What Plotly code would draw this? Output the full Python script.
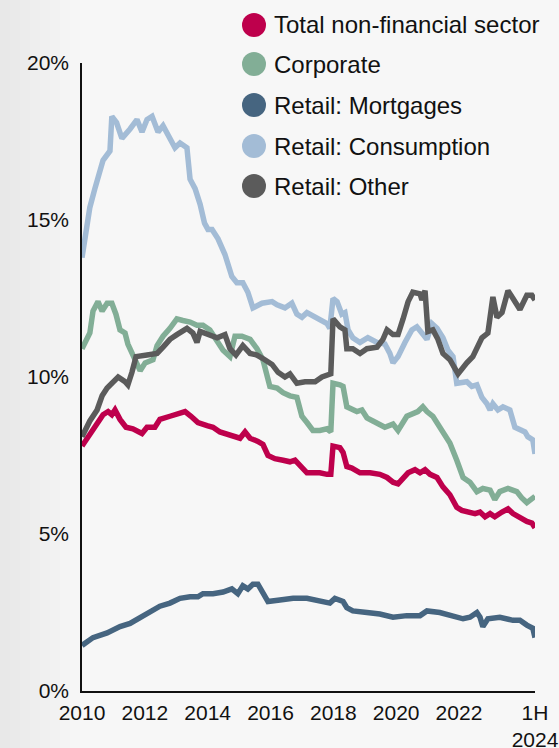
import plotly.graph_objects as go

# Time axis in decimal years (monthly observations, Jan 2010 - Jun 2024)
total_t = [2010.00, 2010.25, 2010.48, 2010.67, 2010.83, 2010.95, 2011.05, 2011.21, 2011.40, 2011.62,
           2011.91, 2012.07, 2012.32, 2012.48, 2012.80, 2013.02, 2013.28, 2013.47, 2013.69, 2013.98,
           2014.17, 2014.39, 2014.65, 2014.81, 2015.03, 2015.19, 2015.35, 2015.60, 2015.76, 2015.92,
           2016.14, 2016.40, 2016.62, 2016.78, 2017.00, 2017.16, 2017.35, 2017.57, 2017.80, 2017.92,
           2017.99, 2018.21, 2018.31, 2018.43, 2018.59, 2018.85, 2019.17, 2019.48, 2019.71, 2019.90,
           2020.06, 2020.22, 2020.38, 2020.60, 2020.76, 2020.92, 2021.08, 2021.30, 2021.49, 2021.71,
           2021.93, 2022.09, 2022.29, 2022.51, 2022.67, 2022.83, 2022.99, 2023.14, 2023.37, 2023.56,
           2023.72, 2023.94, 2024.16, 2024.32, 2024.42]
total_v = [7.8, 8.2, 8.5, 8.8, 8.9, 8.8, 8.95, 8.65, 8.4, 8.35,
           8.2, 8.4, 8.4, 8.65, 8.75, 8.8, 8.9, 8.75, 8.55, 8.45,
           8.4, 8.25, 8.15, 8.1, 8.05, 8.25, 8.05, 7.95, 7.85, 7.5,
           7.4, 7.35, 7.3, 7.35, 7.1, 6.95, 6.95, 6.95, 6.9, 6.9,
           7.8, 7.75, 7.6, 7.15, 7.1, 6.95, 6.95, 6.9, 6.8, 6.65,
           6.6, 6.8, 6.95, 7.05, 6.95, 7.05, 6.9, 6.8, 6.5, 6.25,
           5.85, 5.75, 5.7, 5.65, 5.7, 5.55, 5.65, 5.55, 5.7, 5.8,
           5.65, 5.5, 5.4, 5.35, 5.2]

corp_t = [2010.00, 2010.25, 2010.35, 2010.51, 2010.64, 2010.80, 2010.95, 2011.08, 2011.21, 2011.37,
          2011.46, 2011.69, 2011.85, 2012.01, 2012.26, 2012.39, 2012.58, 2012.80, 2013.02, 2013.21,
          2013.44, 2013.66, 2013.85, 2014.07, 2014.30, 2014.49, 2014.71, 2014.87, 2015.09, 2015.35,
          2015.57, 2015.76, 2015.98, 2016.21, 2016.40, 2016.62, 2016.84, 2017.00, 2017.16, 2017.35,
          2017.57, 2017.80, 2017.92, 2017.99, 2018.21, 2018.31, 2018.43, 2018.59, 2018.75, 2018.91,
          2019.07, 2019.26, 2019.48, 2019.64, 2019.90, 2020.06, 2020.34, 2020.53, 2020.69, 2020.85,
          2020.98, 2021.17, 2021.33, 2021.49, 2021.71, 2021.93, 2022.13, 2022.35, 2022.57, 2022.76,
          2022.99, 2023.14, 2023.30, 2023.56, 2023.84, 2024.00, 2024.16, 2024.42]
corp_v = [10.9, 11.4, 12.1, 12.4, 12.1, 12.35, 12.35, 12.0, 11.5, 11.4,
          11.05, 10.6, 10.2, 10.45, 10.55, 11.0, 11.3, 11.55, 11.85, 11.8,
          11.75, 11.65, 11.65, 11.5, 11.15, 10.85, 10.65, 11.3, 11.3, 11.2,
          10.9, 10.55, 9.7, 9.65, 9.5, 9.4, 9.35, 8.75, 8.55, 8.3,
          8.3, 8.35, 8.25, 9.8, 9.75, 9.7, 9.05, 8.95, 8.9, 8.95,
          8.7, 8.6, 8.5, 8.4, 8.5, 8.3, 8.75, 8.85, 8.9, 9.05,
          8.9, 8.75, 8.5, 8.3, 7.9, 7.35, 6.8, 6.65, 6.35, 6.45,
          6.4, 6.1, 6.35, 6.45, 6.35, 6.15, 6.0, 6.2]

mort_t = [2010.00, 2010.35, 2010.80, 2011.21, 2011.53, 2011.85, 2012.16, 2012.48, 2012.80, 2013.12,
          2013.44, 2013.69, 2013.85, 2014.17, 2014.49, 2014.77, 2014.96, 2015.12, 2015.28, 2015.44,
          2015.60, 2015.76, 2015.92, 2016.30, 2016.72, 2017.16, 2017.57, 2017.89, 2018.05, 2018.31,
          2018.43, 2018.62, 2019.07, 2019.48, 2019.90, 2020.34, 2020.76, 2020.98, 2021.39, 2021.81,
          2022.13, 2022.35, 2022.57, 2022.67, 2022.76, 2022.92, 2023.30, 2023.72, 2023.94, 2024.16,
          2024.35, 2024.42]
mort_v = [1.45, 1.7, 1.85, 2.05, 2.15, 2.35, 2.5, 2.7, 2.8, 2.95,
          3.0, 3.0, 3.1, 3.1, 3.15, 3.25, 3.1, 3.35, 3.25, 3.4,
          3.4, 3.15, 2.85, 2.9, 2.95, 2.95, 2.85, 2.8, 2.95, 2.85,
          2.65, 2.55, 2.5, 2.45, 2.35, 2.4, 2.4, 2.55, 2.5, 2.4,
          2.3, 2.35, 2.5, 2.35, 2.05, 2.3, 2.35, 2.25, 2.25, 2.1,
          2.0, 1.7]

cons_t = [2010.00, 2010.25, 2010.41, 2010.67, 2010.89, 2010.95, 2011.10, 2011.27, 2011.53, 2011.75,
          2011.91, 2012.07, 2012.23, 2012.42, 2012.58, 2012.80, 2012.96, 2013.12, 2013.34, 2013.44,
          2013.60, 2013.76, 2013.90, 2014.01, 2014.14, 2014.33, 2014.55, 2014.77, 2014.93, 2015.12,
          2015.28, 2015.44, 2015.73, 2016.05, 2016.21, 2016.46, 2016.68, 2016.84, 2017.00, 2017.16,
          2017.35, 2017.57, 2017.80, 2017.89, 2017.99, 2018.12, 2018.27, 2018.37, 2018.47, 2018.62,
          2018.85, 2019.10, 2019.39, 2019.64, 2019.80, 2019.90, 2020.06, 2020.28, 2020.50, 2020.66,
          2020.82, 2020.98, 2021.14, 2021.30, 2021.49, 2021.65, 2021.81, 2021.93, 2022.25, 2022.41,
          2022.57, 2022.73, 2022.89, 2022.99, 2023.08, 2023.24, 2023.40, 2023.62, 2023.78, 2023.94,
          2024.10, 2024.19, 2024.35, 2024.42]
cons_v = [13.8, 15.4, 16.0, 16.9, 17.2, 18.3, 18.1, 17.6, 17.9, 18.2,
          17.8, 18.2, 18.3, 17.8, 18.0, 17.6, 17.3, 17.45, 17.3, 16.3,
          16.0, 15.5, 14.9, 14.7, 14.7, 14.4, 13.9, 13.2, 13.0, 13.0,
          12.7, 12.2, 12.35, 12.4, 12.3, 12.2, 12.35, 12.0, 11.9, 12.05,
          11.95, 11.8, 11.7, 11.55, 12.5, 12.4, 12.0, 12.05, 11.5, 11.25,
          11.1, 11.25, 11.1, 11.05, 10.75, 10.45, 10.65, 11.1, 11.5, 11.6,
          11.4, 11.2, 11.7, 11.55, 11.25, 10.85, 10.65, 9.8, 9.85, 9.7,
          9.75, 9.35, 9.15, 8.95, 9.15, 8.95, 9.05, 8.95, 8.4, 8.3,
          8.25, 8.1, 8.0, 7.55]

other_t = [2010.00, 2010.25, 2010.48, 2010.64, 2010.80, 2010.99, 2011.15, 2011.37, 2011.46, 2011.59,
           2011.72, 2012.07, 2012.39, 2012.58, 2012.80, 2013.02, 2013.34, 2013.53, 2013.66, 2013.76,
           2013.98, 2014.30, 2014.55, 2014.71, 2014.90, 2015.12, 2015.35, 2015.57, 2015.82, 2016.05,
           2016.24, 2016.46, 2016.62, 2016.84, 2017.10, 2017.42, 2017.64, 2017.83, 2017.92, 2017.99,
           2018.21, 2018.37, 2018.43, 2018.62, 2018.85, 2019.07, 2019.39, 2019.58, 2019.71, 2019.90,
           2020.06, 2020.22, 2020.38, 2020.53, 2020.76, 2020.82, 2020.92, 2021.01, 2021.17, 2021.33,
           2021.49, 2021.71, 2021.97, 2022.25, 2022.44, 2022.73, 2022.92, 2023.08, 2023.21, 2023.37,
           2023.56, 2023.72, 2023.94, 2024.16, 2024.32, 2024.42]
other_v = [8.1, 8.6, 8.95, 9.4, 9.65, 9.85, 10.0, 9.85, 9.75, 10.15,
           10.65, 10.7, 10.75, 10.95, 11.2, 11.35, 11.55, 11.4, 11.1, 11.45,
           11.35, 11.25, 11.35, 10.9, 10.7, 11.0, 10.75, 10.7, 10.55, 10.4,
           10.15, 10.0, 10.1, 9.8, 9.85, 9.85, 10.0, 10.1, 10.1, 11.85,
           11.6, 11.5, 10.9, 10.9, 10.75, 10.9, 10.95, 11.2, 11.5, 11.35,
           11.35, 11.85, 12.4, 12.7, 12.65, 12.45, 12.75, 11.45, 11.5, 11.2,
           10.75, 10.55, 10.1, 10.45, 10.65, 11.25, 11.4, 12.55, 11.9, 12.05,
           12.75, 12.5, 12.15, 12.6, 12.6, 12.45]

series_names = ["Total non-financial sector", "Corporate", "Retail: Mortgages",
                "Retail: Consumption", "Retail: Other"]
series_colors = ["#be004c", "#82ae96", "#466580", "#a3bcd6", "#5b5b5b"]
series_t = [total_t, corp_t, mort_t, cons_t, other_t]
series_v = [total_v, corp_v, mort_v, cons_v, other_v]

x_tick_vals = [2010, 2012, 2014, 2016, 2018, 2020, 2022, 2024.42]
x_tick_text = ["2010", "2012", "2014", "2016", "2018", "2020", "2022", "1H<br>2024"]
y_tick_vals = [0, 5, 10, 15, 20]
y_tick_text = ["0%", "5%", "10%", "15%", "20%"]

W, H = 559, 748
ML, MR, MT, MB = 82, 24, 63, 57
PW, PH = W - ML - MR, H - MT - MB
FONT = "Arial, Liberation Sans, sans-serif"


def px_to_paper_x(px):
    return (px - ML) / PW


def px_to_paper_y(py):
    return (H - MB - py) / PH


fig = go.Figure()
for t, v, name, col in zip(series_t, series_v, series_names, series_colors):
    fig.add_trace(go.Scatter(x=t, y=v, mode="lines", name=name, showlegend=False,
                             line=dict(color=col, width=5.5)))

shapes = []
annotations = []

# soft grey shading along the left edge of the page
band_cols = ["#e8e8e8", "#eaeaea", "#ececec", "#eeeeee", "#f0f0f0", "#f2f2f2", "#f4f4f4", "#f6f6f6"]
band_w = 10
for i, c in enumerate(band_cols):
    shapes.append(dict(type="rect", xref="paper", yref="paper", layer="below",
                       x0=px_to_paper_x(i * band_w), x1=px_to_paper_x((i + 1) * band_w),
                       y0=px_to_paper_y(H), y1=px_to_paper_y(0),
                       fillcolor=c, line=dict(width=0)))

# legend: large round markers with labels
leg_cx = 254
leg_cy = [25, 64, 105, 146, 186]
for name, col, cy in zip(series_names, series_colors, leg_cy):
    shapes.append(dict(type="circle", xref="paper", yref="paper",
                       xsizemode="pixel", ysizemode="pixel",
                       xanchor=px_to_paper_x(leg_cx), yanchor=px_to_paper_y(cy),
                       x0=-12, x1=12, y0=-12, y1=12,
                       fillcolor=col, line=dict(width=0)))
    annotations.append(dict(text=name, xref="paper", yref="paper",
                            x=px_to_paper_x(leg_cx + 18), y=px_to_paper_y(cy),
                            xanchor="left", yanchor="middle", showarrow=False,
                            font=dict(family=FONT, size=24, color="#111111")))

fig.update_layout(
    width=W, height=H,
    margin=dict(l=ML, r=MR, t=MT, b=MB, autoexpand=False),
    paper_bgcolor="#f7f7f7", plot_bgcolor="rgba(0,0,0,0)",
    showlegend=False,
    shapes=shapes, annotations=annotations,
    font=dict(family=FONT, size=21, color="#111111"),
)
fig.update_xaxes(range=[2010, 2024.42], tickvals=x_tick_vals, ticktext=x_tick_text,
                 automargin=False,
                 showgrid=False, zeroline=False, showline=True, linecolor="#111111", linewidth=1.5,
                 ticks="", ticklabelstandoff=2, tickfont=dict(family=FONT, size=21, color="#111111"))
fig.update_yaxes(range=[0, 20], tickvals=y_tick_vals, ticktext=y_tick_text,
                 automargin=False,
                 showgrid=False, zeroline=False, showline=True, linecolor="#111111", linewidth=1.5,
                 ticks="", ticklabelstandoff=7, tickfont=dict(family=FONT, size=21, color="#111111"))

fig.write_html("out.html")
